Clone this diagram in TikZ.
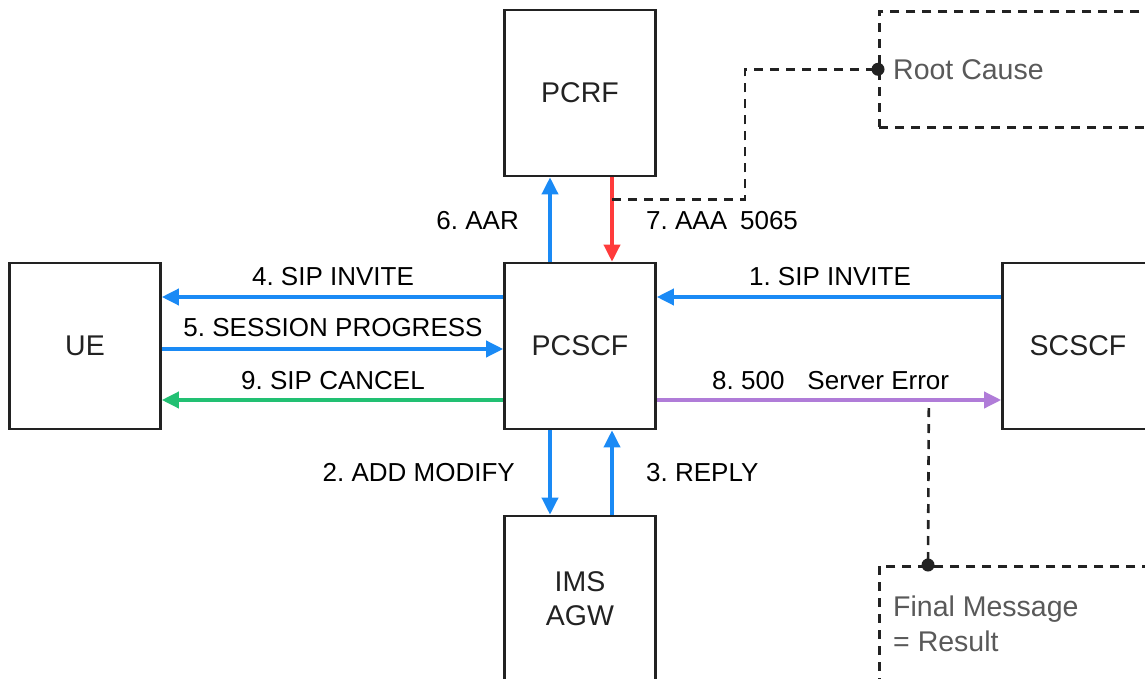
\documentclass[tikz,border=0pt]{standalone}
\usepackage{fontspec}
\setmainfont{Liberation Sans}
\usetikzlibrary{arrows.meta,calc}
\definecolor{edge}{HTML}{222222}
\definecolor{msgblue}{HTML}{1A8AF5}
\definecolor{msgred}{HTML}{FF3B3B}
\definecolor{msggreen}{HTML}{22C073}
\definecolor{msgpurple}{HTML}{B07CD8}
\definecolor{note}{HTML}{595959}
\frenchspacing
\begin{document}
\begin{tikzpicture}[x=1pt,y=-1pt,
  box/.style={draw=edge, line width=2.6pt, minimum width=151pt, minimum height=166pt,
    inner sep=0pt, align=center, text=edge, font=\fontsize{28.5}{34}\selectfont},
  notebox/.style={draw=edge, line width=2.6pt, dash pattern=on 9pt off 7pt,
    anchor=north west, inner sep=0pt},
  msg/.style={line width=3.6pt, -{Triangle[length=17pt,width=16pt]}},
  lbl/.style={inner sep=0pt, text=black, font=\fontsize{26}{30}\selectfont},
  notetext/.style={inner sep=0pt, text=note, font=\fontsize{28.5}{35}\selectfont, align=left},
  link/.style={draw=edge, line width=2.6pt, dash pattern=on 9pt off 7pt},
  dot/.style={circle, fill=edge, inner sep=0pt, minimum size=13pt}]
\useasboundingbox (0,0) rectangle (1145,679);
\clip (0,0) rectangle (1145,679);

% network elements
\node[box] (pcrf)  at (580,93)   {PCRF};
\node[box] (pcscf) at (580,346)  {PCSCF};
\node[box] (ue)    at (85,346)   {UE};
\node[box] (scscf) at (1078,346) {SCSCF};
\node[box] (agw)   at (580,599)  {IMS\\AGW};

% annotation boxes
\node[notebox, minimum width=320pt, minimum height=116pt] (rc) at (878,10) {};
\node[notetext, anchor=west] at ([xshift=15pt]rc.west) {Root Cause};
\node[notebox, minimum width=320pt, minimum height=160pt] (fm) at (878,565) {};
\node[notetext, anchor=north west] at ([xshift=15pt,yshift=-31pt]fm.north west) {Final Message\\= Result};

% horizontal messages
\draw[msg, msgblue]   ([yshift=49pt]scscf.west) -- ([yshift=49pt]pcscf.east);
\draw[msg, msgblue]   ([yshift=49pt]pcscf.west) -- ([yshift=49pt]ue.east);
\draw[msg, msgblue]   ([yshift=-3pt]ue.east)    -- ([yshift=-3pt]pcscf.west);
\draw[msg, msggreen]  ([yshift=-54pt]pcscf.west) -- ([yshift=-54pt]ue.east);
\draw[msg, msgpurple] ([yshift=-54pt]pcscf.east) -- ([yshift=-54pt]scscf.west);

% vertical messages
\draw[msg, msgblue] ([xshift=-30pt]pcscf.north) -- ([xshift=-30pt]pcrf.south);
\draw[msg, msgred]  ([xshift=32pt]pcrf.south)   -- ([xshift=32pt]pcscf.north);
\draw[msg, msgblue] ([xshift=-30pt]pcscf.south) -- ([xshift=-30pt]agw.north);
\draw[msg, msgblue] ([xshift=32pt]agw.north)    -- ([xshift=32pt]pcscf.south);

% message labels
\node[lbl] at (333,277) {4. SIP INVITE};
\node[lbl] at (333,328) {5. SESSION PROGRESS};
\node[lbl] at (333,381) {9. SIP CANCEL};
\node[lbl] at (830,277) {1. SIP INVITE};
\node[lbl, anchor=west] at (712,381) {8. 500\hspace{23pt}Server Error};
\node[lbl, anchor=east] at (519,221) {6. AAR};
\node[lbl, anchor=west] at (646,221) {7. AAA\hspace{0.5em}5065};
\node[lbl, anchor=east] at (515,473) {2. ADD MODIFY};
\node[lbl, anchor=west] at (646,473) {3. REPLY};

% annotation links
\coordinate (aaa) at ($(pcrf.south)+(32,22)$);
\coordinate (err) at ($(pcscf.east)+(272,62)$);
\draw[link] (aaa) -- ++(133,0) |- (rc.west);
\node[dot] at (rc.west) {};
\coordinate (fmtop) at ($(fm.north west)+(50,0)$);
\draw[link] (err) -- (fmtop);
\node[dot] at (fmtop) {};
\end{tikzpicture}
\end{document}
